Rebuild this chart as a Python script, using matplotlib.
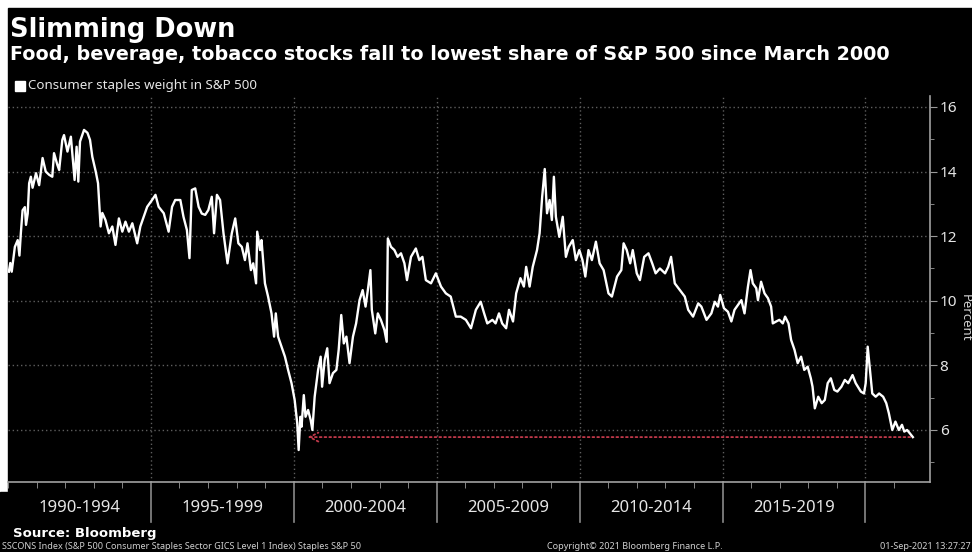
import matplotlib.pyplot as plt
from matplotlib.patches import Rectangle
from matplotlib.transforms import blended_transform_factory

# consumer staples weight in the S&P 500, percent
years = [
    1990.03, 1990.08, 1990.13, 1990.24, 1990.34, 1990.40, 1990.45, 1990.51, 1990.59, 1990.63,
    1990.69, 1990.74, 1990.80, 1990.86, 1990.98,
    1991.09, 1991.21, 1991.32, 1991.44, 1991.55, 1991.61, 1991.73, 1991.79, 1991.90, 1991.96,
    1992.08, 1992.20, 1992.25, 1992.33, 1992.40, 1992.46, 1992.52, 1992.66, 1992.78, 1992.87, 1992.95,
    1993.07, 1993.15, 1993.24, 1993.30, 1993.41, 1993.53, 1993.65, 1993.76, 1993.88,
    1994.00, 1994.11, 1994.23, 1994.35, 1994.52, 1994.63, 1994.87,
    1995.04, 1995.16, 1995.27, 1995.45, 1995.62, 1995.74, 1995.85,
    1996.03, 1996.14, 1996.26, 1996.35, 1996.43, 1996.55, 1996.67, 1996.78, 1996.90,
    1997.01, 1997.13, 1997.21, 1997.31, 1997.42, 1997.54, 1997.68, 1997.83, 1997.95,
    1998.06, 1998.18, 1998.29, 1998.38, 1998.50, 1998.58, 1998.68, 1998.72, 1998.82, 1998.87, 1998.99,
    1999.10, 1999.22, 1999.31, 1999.37, 1999.45, 1999.57, 1999.69, 1999.80, 1999.92,
    2000.03, 2000.12, 2000.17, 2000.23, 2000.27, 2000.35, 2000.41, 2000.50, 2000.59, 2000.65,
    2000.73, 2000.85, 2000.94, 2000.99,
    2001.08, 2001.17, 2001.25, 2001.37, 2001.49, 2001.57, 2001.66, 2001.75, 2001.84, 2001.95,
    2002.07, 2002.18, 2002.30, 2002.41, 2002.51, 2002.59, 2002.68, 2002.73, 2002.85, 2002.94,
    2003.05, 2003.17, 2003.25, 2003.29, 2003.40, 2003.52, 2003.63, 2003.75, 2003.87, 2003.96,
    2004.10, 2004.27, 2004.39, 2004.50, 2004.62, 2004.80, 2004.97,
    2005.15, 2005.32, 2005.49, 2005.67, 2005.84,
    2006.02, 2006.20, 2006.37, 2006.54, 2006.66, 2006.77, 2006.95,
    2007.06, 2007.18, 2007.29, 2007.43, 2007.53, 2007.67, 2007.78, 2007.93,
    2008.05, 2008.13, 2008.25, 2008.36, 2008.51, 2008.60, 2008.69, 2008.78, 2008.86, 2008.95,
    2009.03, 2009.10, 2009.17, 2009.29, 2009.41, 2009.52, 2009.62, 2009.76, 2009.87, 2009.99,
    2010.10, 2010.20, 2010.31, 2010.43, 2010.57, 2010.70, 2010.84,
    2011.01, 2011.13, 2011.31, 2011.46, 2011.54, 2011.65, 2011.77, 2011.86,
    2012.00, 2012.11, 2012.26, 2012.41, 2012.54, 2012.66, 2012.81, 2012.99,
    2013.10, 2013.20, 2013.33, 2013.51, 2013.68, 2013.80, 2013.97,
    2014.15, 2014.26, 2014.44, 2014.61, 2014.73, 2014.84, 2014.92,
    2015.05, 2015.19, 2015.31, 2015.42, 2015.54, 2015.66, 2015.77, 2015.89, 2015.98,
    2016.06, 2016.18, 2016.24, 2016.35, 2016.47, 2016.59, 2016.70, 2016.76, 2016.88, 2016.99,
    2017.11, 2017.19, 2017.31, 2017.40, 2017.52, 2017.63, 2017.75, 2017.86, 2017.98,
    2018.09, 2018.15, 2018.23, 2018.35, 2018.47, 2018.58, 2018.68, 2018.79, 2018.91,
    2019.02, 2019.16, 2019.28, 2019.40, 2019.55, 2019.66, 2019.84, 2019.95,
    2020.01, 2020.08, 2020.16, 2020.24, 2020.36, 2020.48, 2020.62, 2020.73, 2020.82, 2020.94,
    2021.05, 2021.17, 2021.28, 2021.36, 2021.46, 2021.66,
]
weights = [
    10.90, 11.17, 10.90, 11.67, 11.88, 11.40, 12.10, 12.80, 12.90, 12.35,
    12.70, 13.64, 13.84, 13.50, 13.95,
    13.58, 14.42, 14.00, 13.90, 13.84, 14.57, 14.20, 14.05, 14.98, 15.13,
    14.62, 15.08, 14.57, 13.74, 14.77, 13.69, 14.93, 15.29, 15.20, 14.98, 14.46,
    14.00, 13.64, 12.30, 12.72, 12.50, 12.09, 12.30, 11.73, 12.55,
    12.14, 12.45, 12.14, 12.40, 11.78, 12.30, 12.91,
    13.12, 13.28, 12.91, 12.71, 12.14, 12.91, 13.12,
    13.12, 12.60, 12.19, 11.32, 13.43, 13.48, 12.91, 12.70, 12.66,
    12.81, 13.22, 12.09, 13.28, 13.12, 12.09, 11.16, 12.09, 12.55,
    11.78, 11.67, 11.26, 11.78, 10.95, 11.16, 10.54, 12.14, 11.57, 11.88, 10.54,
    10.13, 9.61, 8.89, 9.61, 8.89, 8.58, 8.27, 7.86, 7.45,
    6.93, 6.21, 5.38, 6.41, 6.10, 7.08, 6.41, 6.62, 6.31, 6.00,
    7.03, 7.86, 8.27, 7.34,
    8.17, 8.53, 7.45, 7.76, 7.86, 8.48, 9.56, 8.68, 8.89, 8.07,
    8.89, 9.30, 10.02, 10.33, 9.82, 10.33, 10.95, 9.72, 8.99, 9.61,
    9.40, 9.10, 8.73, 11.93, 11.67, 11.57, 11.36, 11.47, 11.16, 10.64,
    11.36, 11.62, 11.26, 11.36, 10.64, 10.54, 10.85,
    10.44, 10.23, 10.13, 9.51, 9.51,
    9.41, 9.15, 9.72, 9.97, 9.61, 9.30, 9.41,
    9.30, 9.61, 9.30, 9.15, 9.72, 9.36, 10.23, 10.70,
    10.44, 11.05, 10.44, 11.05, 11.57, 12.09, 13.22, 14.08, 12.71, 13.12,
    12.50, 13.84, 12.60, 11.98, 12.60, 11.36, 11.67, 11.88, 11.26, 11.57,
    11.26, 10.75, 11.57, 11.26, 11.83, 11.16, 10.95,
    10.23, 10.13, 10.75, 10.95, 11.78, 11.57, 11.16, 11.57,
    10.85, 10.64, 11.36, 11.47, 11.16, 10.85, 11.00, 10.85,
    11.05, 11.36, 10.54, 10.33, 10.13, 9.72, 9.51,
    9.92, 9.82, 9.41, 9.61, 9.97, 9.82, 10.18,
    9.77, 9.66, 9.36, 9.72, 9.87, 10.02, 9.61, 10.44, 10.95,
    10.54, 10.39, 10.02, 10.59, 10.23, 10.08, 9.82, 9.30, 9.36, 9.41,
    9.30, 9.51, 9.30, 8.79, 8.48, 8.07, 8.27, 7.86, 7.96,
    7.60, 7.34, 6.67, 7.03, 6.83, 6.93, 7.45, 7.60, 7.24,
    7.19, 7.34, 7.55, 7.45, 7.70, 7.45, 7.19, 7.13,
    7.45, 8.58, 7.86, 7.13, 7.03, 7.13, 7.03, 6.83, 6.52, 6.00,
    6.26, 6.00, 6.16, 5.95, 6.00, 5.78,
]

period_starts = [1990, 1995, 2000, 2005, 2010, 2015]
period_labels = ["1990-1994", "1995-1999", "2000-2004", "2005-2009", "2010-2014", "2015-2019"]
separators = [1995, 2000, 2005, 2010, 2015, 2020]
y_ticks = [6, 8, 10, 12, 14, 16]

# March 2000 low that the latest reading is compared against
low_year = 2000.38
latest = weights[-1]

W, H = 972, 552
fig = plt.figure(figsize=(W / 100, H / 100), dpi=100, facecolor="white")
fig.patches.append(Rectangle((8 / W, 0), 1, (H - 8) / H, transform=fig.transFigure,
                             color="black", zorder=-10))
fig.patches.append(Rectangle((0, 0), 8 / W, 60 / H, transform=fig.transFigure,
                             color="black", zorder=-10))

ax = fig.add_axes([8 / W, (H - 482) / H, (930 - 8) / W, (482 - 96) / H])
ax.set_facecolor("black")
ax.plot(years, weights, color="white", linewidth=1.7, zorder=3)

ax.annotate("", xy=(low_year, latest), xytext=(years[-1], latest),
            arrowprops=dict(arrowstyle="->", color="#c0394a", linestyle=":",
                            linewidth=1.3, mutation_scale=16), zorder=2)

ax.set_xlim(1990.0, 2022.26)
ax.set_ylim(4.39, 16.34)

ax.set_xticks(separators)
ax.set_xticks(range(1990, 2022), minor=True)
ax.tick_params(axis="x", which="major", length=0, labelbottom=False)
ax.tick_params(axis="x", which="minor", length=4, color="#9a9a9a", direction="out")

ax.yaxis.tick_right()
ax.set_yticks(y_ticks)
ax.set_yticks([5, 7, 9, 11, 13, 15], minor=True)
ax.set_yticklabels([str(t) for t in y_ticks], family="Noto Sans", fontsize=11, color="#e6e6e6")
ax.tick_params(axis="y", which="major", length=5, color="#9a9a9a", pad=2)
ax.tick_params(axis="y", which="minor", length=3, color="#9a9a9a")

ax.grid(True, which="major", color="#5e5e5e", linestyle=(0, (1, 2)), linewidth=1)
for side in ["left", "top"]:
    ax.spines[side].set_visible(False)
for side in ["right", "bottom"]:
    ax.spines[side].set_color("#a0a0a0")
    ax.spines[side].set_linewidth(1.2)

# period separators and labels under the axis
trans = blended_transform_factory(ax.transData, ax.transAxes)
for s in separators:
    ax.plot([s, s], [0, -40 / 386], transform=trans, color="#8a8a8a",
            linewidth=1.2, clip_on=False)
for start, lab in zip(period_starts, period_labels):
    ax.text(start + 2.5, -30 / 386, lab, transform=trans, ha="center", va="baseline",
            family="Noto Sans", fontsize=12, color="#e6e6e6")

fig.text(965 / W, 1 - 318 / H, "Percent", rotation=270, ha="center", va="center",
         family="Noto Sans", fontsize=9.5, color="#d0d0d0")

fig.text(10 / W, 1 - 37 / H, "Slimming Down", family="DejaVu Sans", fontweight="bold",
         fontsize=18.5, color="white", va="baseline")
fig.text(10 / W, 1 - 60 / H,
         "Food, beverage, tobacco stocks fall to lowest share of S&P 500 since March 2000",
         family="DejaVu Sans", fontweight="bold", fontsize=13.8, color="white", va="baseline")
fig.patches.append(Rectangle((15 / W, 1 - 91 / H), 10 / W, 10 / H, transform=fig.transFigure,
                             color="white"))
fig.text(28 / W, 1 - 86 / H, "Consumer staples weight in S&P 500", family="Noto Sans",
         fontsize=9.6, color="#e6e6e6", va="center")

fig.text(13 / W, 1 - 537 / H, "Source: Bloomberg", family="DejaVu Sans", fontweight="bold",
         fontsize=9.5, color="white", va="baseline")
fig.text(2 / W, 1 - 549 / H,
         "SSCONS Index (S&P 500 Consumer Staples Sector GICS Level 1 Index) Staples S&P 50",
         family="Noto Sans", fontsize=6.5, color="#d0d0d0", va="baseline")
fig.text(547 / W, 1 - 549 / H, "Copyright\u00a9 2021 Bloomberg Finance L.P.",
         family="Noto Sans", fontsize=6.5, color="#d0d0d0", va="baseline")
fig.text(880 / W, 1 - 549 / H, "01-Sep-2021 13:27:27", family="Noto Sans",
         fontsize=6.5, color="#d0d0d0", va="baseline")

fig.savefig("out.png", dpi=100, facecolor=fig.get_facecolor())
